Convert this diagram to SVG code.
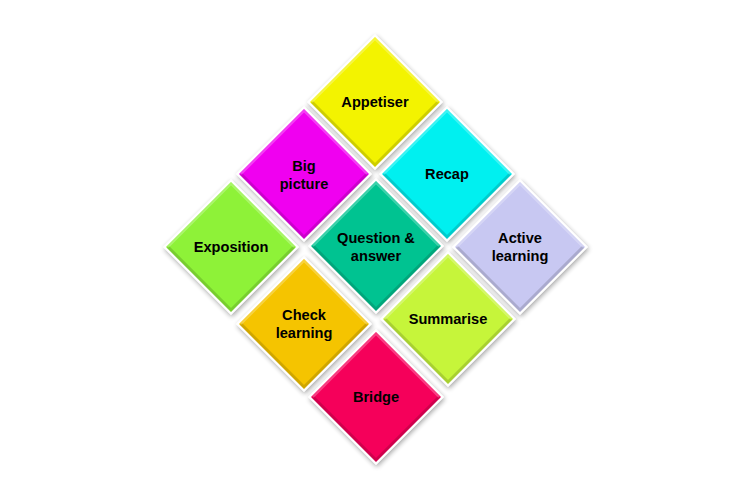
<svg xmlns="http://www.w3.org/2000/svg" width="750" height="500" viewBox="0 0 750 500">
<defs>
<filter id="sh" x="-20%" y="-20%" width="140%" height="140%">
<feGaussianBlur in="SourceAlpha" stdDeviation="2.5"/>
<feOffset dx="1" dy="2" result="b"/>
<feComponentTransfer><feFuncA type="linear" slope="0.35"/></feComponentTransfer>
<feMerge><feMergeNode/><feMergeNode in="SourceGraphic"/></feMerge>
</filter>
<polygon id="outer" points="0,-68 68,0 0,68 -68,0"/>
<polygon id="inner" points="0,-65 65,0 0,65 -65,0"/>
<polyline id="lo" points="-63,0 0,63 63,0"/>
<polyline id="hi" points="-63,0 0,-63 63,0"/>
</defs>
<style>
.o{fill:#ffffff;filter:url(#sh)}
.lo{fill:none;stroke:#000;stroke-opacity:0.15;stroke-width:3}
.hi{fill:none;stroke:#fff;stroke-opacity:0.25;stroke-width:2}
text{font-family:"Liberation Sans",Arial,sans-serif;font-weight:bold;font-size:14.6px;fill:#000;text-anchor:middle}
</style>
<rect width="750" height="500" fill="#ffffff"/>
<g id="connectors"/>
<g id="appetiser" transform="translate(375,102)">
<use href="#outer" class="o"/><use href="#inner" fill="#f3f300"/><use href="#lo" class="lo"/><use href="#hi" class="hi"/>
<text y="5">Appetiser</text>
</g>
<g id="big-picture" transform="translate(304,174)">
<use href="#outer" class="o"/><use href="#inner" fill="#f000f0"/><use href="#lo" class="lo"/><use href="#hi" class="hi"/>
<text y="-3">Big</text><text y="15">picture</text>
</g>
<g id="recap" transform="translate(447,174)">
<use href="#outer" class="o"/><use href="#inner" fill="#00f0f0"/><use href="#lo" class="lo"/><use href="#hi" class="hi"/>
<text y="5">Recap</text>
</g>
<g id="exposition" transform="translate(231,247)">
<use href="#outer" class="o"/><use href="#inner" fill="#8ef238"/><use href="#lo" class="lo"/><use href="#hi" class="hi"/>
<text y="5">Exposition</text>
</g>
<g id="question-answer" transform="translate(376,246)">
<use href="#outer" class="o"/><use href="#inner" fill="#00c391"/><use href="#lo" class="lo"/><use href="#hi" class="hi"/>
<text y="-3">Question &amp;</text><text y="15">answer</text>
</g>
<g id="active-learning" transform="translate(520,247)">
<use href="#outer" class="o"/><use href="#inner" fill="#c8c8f2"/><use href="#lo" class="lo"/><use href="#hi" class="hi"/>
<text y="-4">Active</text><text y="14">learning</text>
</g>
<g id="check-learning" transform="translate(304,324)">
<use href="#outer" class="o"/><use href="#inner" fill="#f5c400"/><use href="#lo" class="lo"/><use href="#hi" class="hi"/>
<text y="-4">Check</text><text y="14">learning</text>
</g>
<g id="summarise" transform="translate(448,319)">
<use href="#outer" class="o"/><use href="#inner" fill="#c6f53a"/><use href="#lo" class="lo"/><use href="#hi" class="hi"/>
<text y="5">Summarise</text>
</g>
<g id="bridge" transform="translate(376,397)">
<use href="#outer" class="o"/><use href="#inner" fill="#f5005a"/><use href="#lo" class="lo"/><use href="#hi" class="hi"/>
<text y="5">Bridge</text>
</g>
</svg>
